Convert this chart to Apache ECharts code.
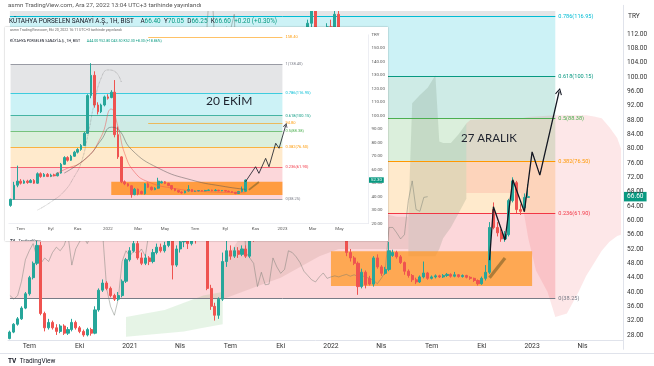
<!DOCTYPE html>
<html><head><meta charset="utf-8">
<script src="https://cdn.jsdelivr.net/npm/echarts@6/dist/echarts.min.js"></script>
<style>
html,body{margin:0;padding:0;background:#fff;overflow:hidden}
#main{position:absolute;left:0;top:0;width:654px;height:366px}
#inset{position:absolute;left:5px;top:27px;width:383px;height:214px;background:#fff;box-shadow:0 0 1.5px rgba(0,0,0,0.35)}
</style>
</head><body>
<div id="main"></div>
<div id="inset"></div>
<script>
// ---------- weekly categories (Mondays from 2020-06-01) ----------
const weeks = [];
for (let i = 0; i < 162; i++) {
  weeks.push(new Date(Date.UTC(2020, 5, 1) + i * 7 * 86400000).toISOString().slice(0, 10));
}

// ---------- weekly candles [open, close, low, high], index 0 = 2020-06-01 ----------
const candles = [
[27.0,28.8,26.8,29.2],[28.8,31.0,28.5,31.3],[31.0,32.5,30.6,33.0],[32.5,35.5,32.2,36.0],[35.5,39.5,35.2,40.0],
[39.5,44.0,39.0,44.5],[44.0,48.0,43.5,48.5],[48.0,53.0,47.5,60.0],[53.0,34.0,33.5,54.0],[34.0,30.0,29.0,34.5],
[30.0,31.5,29.5,32.5],[31.5,30.0,29.5,32.0],[30.0,29.0,28.0,31.0],[29.0,30.5,28.5,31.0],[30.5,28.5,28.0,31.0],
[28.5,29.5,28.0,30.2],[29.5,31.5,29.0,32.5],[31.5,30.0,29.5,32.0],[30.0,29.0,28.5,30.5],[29.0,28.0,27.5,29.5],
[28.0,29.5,27.6,30.0],[29.5,28.5,27.8,30.0],[28.5,35.0,28.2,36.0],[35.0,40.5,34.5,41.0],[40.5,42.5,40.0,43.5],
[42.5,41.0,40.5,43.0],[41.0,39.0,38.5,41.5],[39.0,38.0,37.5,39.5],[38.0,39.0,37.5,40.0],[39.0,43.0,38.5,43.5],
[43.0,49.0,42.5,49.5],[49.0,51.5,48.5,52.5],[51.5,53.5,51.0,55.0],[53.5,49.5,49.0,56.0],[49.5,48.0,47.5,51.0],
[48.0,49.5,47.5,50.5],[49.5,48.5,47.5,50.0],[48.5,51.0,48.0,52.0],[51.0,52.5,50.5,53.5],[52.5,51.5,51.0,53.5],
[51.5,53.0,51.0,54.0],[53.0,56.0,52.5,57.5],[56.0,47.5,43.5,57.0],[47.5,52.0,47.0,53.0],[52.0,54.0,51.0,56.0],
[54.0,55.5,52.5,57.0],[55.5,53.5,52.0,57.0],[53.5,56.0,53.0,58.0],[56.0,55.0,53.5,57.5],[55.0,57.0,54.5,58.0],
[57.0,56.0,54.5,58.0],[56.0,41.0,40.5,57.0],[41.0,36.0,35.0,42.0],[36.0,33.5,32.0,37.0],[33.5,38.0,32.5,38.5],
[38.0,48.5,37.5,51.0],[48.5,51.5,47.0,63.0],[51.5,50.0,49.0,53.0],[50.0,51.5,49.5,52.5],[51.5,50.5,49.5,52.5],
[50.5,52.0,50.0,53.0],[52.0,50.0,49.5,53.0],[50.0,57.0,49.5,58.0],[57.0,55.0,54.0,58.0],[55.0,56.5,54.5,57.5],
[56.5,55.0,54.5,57.5],[55.0,56.0,54.5,57.0],[56.0,55.5,55.0,57.0],[55.5,57.5,55.0,58.0],[57.5,64.0,57.0,65.0],
[64.0,69.0,63.5,70.0],[69.0,67.0,66.0,70.0],[67.0,70.0,66.5,71.0],[70.0,73.0,69.5,74.0],[73.0,75.0,72.0,76.0],
[75.0,78.0,74.0,79.0],[78.0,87.0,77.5,88.0],[87.0,115.0,86.5,116.0],[115.0,130.0,113.0,139.0],[130.0,108.0,106.0,133.0],
[108.0,103.0,101.0,110.0],[103.0,108.0,102.0,109.0],[108.0,114.0,107.0,115.0],[114.0,113.0,112.0,116.0],[113.5,117.5,113.0,119.0],
[117.5,86.0,84.0,126.5],[86.0,69.5,68.0,92.0],[69.5,51.0,50.0,70.0],[51.0,49.5,48.5,52.0],[49.5,48.0,47.5,50.0],
[48.0,41.5,39.2,48.5],[41.5,45.5,41.0,46.5],[45.5,42.0,41.0,46.0],[43.8,42.2,41.8,44.5],[42.2,49.5,41.5,50.0],
[49.5,47.0,46.5,50.5],[47.0,45.2,44.5,47.5],[45.2,46.3,44.8,47.0],[46.3,51.5,45.8,54.0],[50.2,51.0,49.8,51.8],
[51.0,49.8,49.3,51.5],[49.8,48.2,47.8,50.3],[48.2,45.8,44.8,48.5],[45.8,44.6,44.0,46.3],[44.6,43.4,42.8,45.0],
[43.4,42.8,42.2,44.0],[42.8,44.2,42.5,44.6],[44.2,45.3,43.8,48.5],[45.3,43.8,43.4,45.6],[43.8,44.2,43.5,44.6],
[44.2,44.5,43.8,44.9],[44.5,44.2,43.9,44.8],[44.2,44.6,43.9,45.0],[44.6,44.9,44.2,45.3],[44.9,44.4,44.0,45.2],
[44.4,44.8,44.1,45.6],[44.8,44.3,44.0,45.0],[44.3,44.6,44.0,44.9],[44.6,44.1,43.8,44.8],[44.1,43.8,43.4,44.4],
[43.8,43.2,42.8,44.0],[43.2,42.3,41.8,43.5],[42.3,43.8,42.0,44.3],[43.8,45.5,43.2,47.5],[45.5,58.0,45.0,59.5],
[63.0,58.0,57.5,65.0],[58.0,56.5,55.5,59.5],[56.5,54.8,54.0,57.5],[54.8,56.0,54.0,57.0],[56.0,65.5,55.5,66.0],
[65.5,71.0,65.0,72.0],[70.5,63.0,62.0,71.0],[63.0,62.5,61.5,64.5],[63.5,66.4,63.0,67.5],[66.4,66.6,66.25,70.05]
];
// the inset screenshot (20 Oct) shows the then-unfinished week
const insetLastCandle = [44.0, 52.3, 43.5, 52.8];

// ---------- Fibonacci ----------
const fibLevels = ['0', '0.236', '0.382', '0.5', '0.618', '0.786', '1'];
const fibPrices = [38.25, 61.90, 76.50, 88.38, 100.15, 116.95, 138.40];
const fibColors = ['#787b86', '#f23645', '#ff9800', '#4caf50', '#089981', '#00bcd4', '#787b86'];

// ---------- main Ichimoku cloud outlines (index, lower, upper) ----------
const cloudA_idx = [30, 35, 40, 45, 50, 55];
const cloudA_low = [27.5, 28, 28.5, 29, 30, 31];
const cloudA_high = [33, 34, 35, 37, 39, 40];
const cloudB_idx = [55, 60, 65, 70, 75, 80, 85, 90, 96, 100, 103];
const cloudB_low = [38, 40, 42, 44, 47, 50, 52, 52, 52, 52, 52];
const cloudB_high = [48, 56, 60, 62, 64, 66, 66, 64, 62, 61, 61];
const cloudD_idx = [103, 104, 106, 108, 110, 111, 112, 114, 116, 118];
const cloudD_low = [50, 50, 50, 50, 50, 52, 55, 58, 62, 66];
const cloudD_high = [61, 92.7, 95, 97, 100.5, 82, 81.6, 81.6, 84, 87];
const cloudE_idx = [118, 119, 125, 132, 134, 136, 139, 141, 144, 147, 149, 151, 153, 155, 157, 158];
const cloudE_low = [67.6, 67.6, 67.6, 67.6, 55, 46, 40, 33, 34, 40, 44.5, 48, 51.5, 54, 55.6, 56];
const cloudE_high = [87, 88, 88.4, 88.4, 88.8, 89, 89.2, 89.3, 89.3, 89.3, 89.3, 89, 88.5, 86, 83, 80];

// ---------- drawings ----------
const mainPathIdx = [124, 125, 128, 130, 133, 135, 137, 142];
const mainPathVal = [48.9, 63.8, 54.5, 71.3, 62.4, 79.1, 72.6, 96];
const mainPointerIdx = [128, 124];
const mainPointerVal = [49.5, 44];
const mainBox = {from: 83, to: 135, low: 41.7, high: 51.4};
const lastPrice = 66.60;

const insetPathIdx = [124, 127, 128, 130, 131, 133, 134, 136];
const insetPathVal = [51.1, 62.2, 57.3, 68.4, 62.2, 79.6, 75.9, 93];
const insetPointerIdx = [128, 125];
const insetPointerVal = [50.9, 45];
const insetBox = {from: 84, to: 135, low: 41.2, high: 51.0};
const insetLastPrice = 52.30;
const insetRedMA_idx = [66, 70, 76, 81, 84, 86, 88, 91, 95, 102, 112, 124];
const insetRedMA_val = [54.8, 60, 67.2, 84.5, 105, 92, 72, 58, 51, 46.4, 43.7, 42.9];
const insetGrayMA_idx = [70, 77, 81, 84, 86, 90, 98, 108, 118, 124];
const insetGrayMA_val = [57.5, 69.6, 82, 91.5, 90, 75, 61.2, 52.3, 47.4, 45.4];
const insetDots_idx = [62, 66, 70, 73, 75, 77, 79, 81, 83, 85, 87];
const insetDots_val = [30, 36, 44, 55, 65, 85, 110, 128, 134, 133, 125];
const insetOrangeLines = [158.4, 94.8];

// ---------- helpers ----------
function rgba(hex, a) {
  const n = parseInt(hex.slice(1), 16);
  return `rgba(${(n >> 16) & 255},${(n >> 8) & 255},${n & 255},${a})`;
}
const ARROW = 'path://M0,10 L5,0 L10,10 L8.6,10.8 L5,3.2 L1.4,10.8 Z';
function pairs(idx, val) { return idx.map((k, j) => [weeks[k], val[j]]); }
function pathData(idx, val, size, rot) {
  const d = pairs(idx, val);
  const last = d.pop();
  d.push({value: last, symbol: ARROW, symbolSize: size, symbolRotate: rot, itemStyle: {color: '#131722'}});
  return d;
}
function pointerData(idx, val, size, rot) {
  const d = pairs(idx, val);
  const last = d.pop();
  d.push({value: last, symbol: 'triangle', symbolSize: size, symbolRotate: rot});
  return d;
}
function cloud(idx, low, high, color) {
  return {
    type: 'custom', z: 2, silent: true, clip: true, data: [[0, 0]],
    renderItem(params, api) {
      const pts = [];
      for (let k = 0; k < idx.length; k++) pts.push(api.coord([idx[k], high[k]]));
      for (let k = idx.length - 1; k >= 0; k--) pts.push(api.coord([idx[k], low[k]]));
      return {type: 'polygon', shape: {points: pts}, style: {fill: color}};
    }
  };
}
function fibZones(fromIdx, toIdx, maxLevel) {
  const out = [];
  for (let k = 1; k <= maxLevel; k++) {
    out.push([{xAxis: weeks[fromIdx], yAxis: fibPrices[k - 1], itemStyle: {color: rgba(fibColors[k], 0.2)}},
              {xAxis: weeks[toIdx], yAxis: fibPrices[k]}]);
  }
  return out;
}
function fibLines(fromIdx, toIdx, maxLevel, fs, lw) {
  const out = [];
  for (let k = 0; k <= maxLevel; k++) {
    out.push([{coord: [weeks[fromIdx], fibPrices[k]], lineStyle: {color: fibColors[k], width: lw, type: 'solid'},
               label: {show: true, position: 'end', distance: 3, fontSize: fs, color: fibColors[k],
                       fontFamily: 'Roboto', formatter: fibLevels[k] + '(' + fibPrices[k].toFixed(2) + ')'}},
              {coord: [weeks[toIdx], fibPrices[k]]}]);
  }
  return out;
}
const mainMonths = {4: 'Nis', 7: 'Tem', 10: 'Eki'};
const insetMonths = {3: 'Mar', 5: 'May', 7: 'Tem', 9: 'Eyl', 11: 'Kas'};
function monthLabel(map) {
  return {
    show: (i, v) => { const m = +v.slice(5, 7), d = +v.slice(8, 10); return d <= 7 && (m === 1 || !!map[m]); },
    fmt: (v) => { const m = +v.slice(5, 7); return m === 1 ? v.slice(0, 4) : map[m]; }
  };
}
const candleStyle = {color: '#26a69a', color0: '#ef5350', borderColor: '#26a69a', borderColor0: '#ef5350', borderWidth: 1};

// =================== MAIN CHART ===================
const mainChart = echarts.init(document.getElementById('main'), null, {renderer: 'canvas'});
const ml = monthLabel(mainMonths);
mainChart.setOption({
  animation: false,
  backgroundColor: '#ffffff',
  grid: {left: 8, right: 31, top: 5.33, bottom: 16.7, containLabel: false},
  xAxis: {
    type: 'category', data: weeks, min: 0, max: 158, boundaryGap: true, offset: -9.3, z: 9,
    axisLine: {show: true, lineStyle: {color: '#e0e3eb'}}, axisTick: {show: false}, splitLine: {show: false},
    axisLabel: {interval: ml.show, formatter: ml.fmt, fontSize: 6.8, color: '#333', margin: 3, fontFamily: 'Roboto'}
  },
  yAxis: {
    type: 'value', position: 'right', min: 24, max: 120, interval: 4, z: 9,
    axisLine: {show: true, lineStyle: {color: '#e0e3eb'}}, axisTick: {show: false}, splitLine: {show: false},
    axisLabel: {fontSize: 6.6, color: '#333', margin: 4, fontFamily: 'Roboto',
      formatter: v => (v < 28 || v > 112) ? '' : v.toFixed(2)}
  },
  series: [
    {type: 'line', data: [], z: 1, silent: true,
     markArea: {z: 1, silent: true, data: fibZones(0, 141, 6)},
     markLine: {z: 3, silent: true, symbol: ['none', 'none'], data: fibLines(0, 141, 5, 5.6, 1)}},
    cloud(cloudA_idx, cloudA_low, cloudA_high, 'rgba(76,175,80,0.14)'),
    cloud(cloudB_idx, cloudB_low, cloudB_high, 'rgba(150,90,80,0.13)'),
    cloud(cloudD_idx, cloudD_low, cloudD_high, 'rgba(90,120,90,0.17)'),
    cloud(cloudE_idx, cloudE_low, cloudE_high, 'rgba(242,54,69,0.12)'),
    {type: 'line', data: [], z: 3, silent: true,
     markArea: {z: 3, silent: true, data: [[{xAxis: weeks[mainBox.from], yAxis: mainBox.low, itemStyle: {color: 'rgba(255,150,30,0.72)'}},
                                        {xAxis: weeks[mainBox.to], yAxis: mainBox.high}]]}},
    {type: 'line', z: 4, silent: true, symbol: 'none',
     data: weeks.slice(0, candles.length - 26).map((w, i) => [w, candles[i + 26][1]]),
     lineStyle: {color: 'rgba(110,120,110,0.55)', width: 0.8}},
    {type: 'candlestick', z: 4, data: candles, barWidth: 2.6, itemStyle: candleStyle, silent: true,
     markLine: {z: 6, silent: true, symbol: ['none', 'none'], data: [{yAxis: lastPrice}],
       lineStyle: {color: 'rgba(0,0,0,0)'},
       label: {position: 'end', distance: 1, formatter: lastPrice.toFixed(2), backgroundColor: '#089981',
               color: '#fff', fontSize: 6.6, padding: [1.5, 3, 1, 3], fontFamily: 'Roboto'}}},
    {type: 'line', z: 5, silent: true, symbol: 'circle', symbolSize: 0,
     data: pointerData(mainPointerIdx, mainPointerVal, [7, 7], 142),
     lineStyle: {color: 'rgba(160,115,50,0.85)', width: 3.2}, itemStyle: {color: 'rgba(160,115,50,0.9)'}},
    {type: 'line', z: 6, silent: true, symbol: 'circle', symbolSize: 0,
     data: pathData(mainPathIdx, mainPathVal, [7, 7], -13),
     lineStyle: {color: '#131722', width: 1.3}}
  ],
  graphic: [
    {type: 'rect', z: 8, silent: true, shape: {x: 0, y: 0, width: 654, height: 11}, style: {fill: '#fff'}},
    {type: 'rect', z: 8, silent: true, shape: {x: 0, y: 340.5, width: 654, height: 26}, style: {fill: '#fff'}},
    {type: 'line', z: 9, silent: true, shape: {x1: 0, y1: 353.5, x2: 654, y2: 353.5}, style: {stroke: '#e0e3eb', lineWidth: 1}},
    {type: 'text', z: 10, left: 8, top: 2, style: {text: 'asmn TradingView.com, Ara 27, 2022 13:04 UTC+3 tarihinde yayınlandı',
      fontSize: 6.2, fill: '#555', fontFamily: 'Roboto'}},
    {type: 'text', z: 10, left: 9, top: 15.5, style: {
      text: '{n|KÜTAHYA PORSELEN SANAYİ A.Ş., 1H, BIST}  {k|A}{v|66.40} {k|Y}{v|70.05} {k|D}{v|66.25} {k|K}{v|66.60} {v|+0.20 (+0.30%)}',
      rich: {n: {fontSize: 6.4, fill: '#131722', fontFamily: 'Roboto'}, k: {fontSize: 6.4, fill: '#131722', fontFamily: 'Roboto'},
             v: {fontSize: 6.4, fill: '#089981', fontFamily: 'Roboto'}}}},
    {type: 'text', z: 10, left: 628, top: 12.5, style: {text: 'TRY', fontSize: 6.6, fill: '#333', fontFamily: 'Roboto'}},
    {type: 'text', z: 10, left: 461, top: 132, style: {text: '27 ARALIK', fontSize: 11.5, fill: '#1e222d', fontFamily: 'Lato'}},
    {type: 'text', z: 10, left: 8, top: 355, style: {text: '{t|TV} {s|TradingView}',
      rich: {t: {fontSize: 6.5, fontWeight: 'bold', fill: '#131722', fontFamily: 'Roboto'}, s: {fontSize: 6.5, fill: '#131722', fontFamily: 'Roboto'}}}}
  ]
});

// =================== INSET (older screenshot, 20 Oct) ===================
const insetChart = echarts.init(document.getElementById('inset'), null, {renderer: 'canvas'});
const il = monthLabel(insetMonths);
const insetCandles = candles.slice(0, 124).concat([insetLastCandle]);
insetChart.setOption({
  animation: false,
  backgroundColor: '#ffffff',
  grid: {left: 3.9, top: 7.9, width: 359.5, height: 188.7, containLabel: false},
  xAxis: {
    type: 'category', data: weeks, min: 54, max: 160, boundaryGap: true,
    axisLine: {show: true, lineStyle: {color: '#e0e3eb', width: 0.6}}, axisTick: {show: false}, splitLine: {show: false},
    axisLabel: {interval: il.show, formatter: il.fmt, fontSize: 4.4, color: '#555', margin: 3, fontFamily: 'Roboto'}
  },
  yAxis: {
    type: 'value', position: 'right', min: 20, max: 160, interval: 10,
    axisLine: {show: true, lineStyle: {color: '#e0e3eb', width: 0.6}}, axisTick: {show: false}, splitLine: {show: false},
    axisLabel: {fontSize: 4.4, color: '#555', margin: 3.5, fontFamily: 'Roboto',
      formatter: v => v === 160 ? 'TRY' : v.toFixed(2)}
  },
  series: [
    {type: 'line', data: [], z: 1, silent: true,
     markArea: {z: 1, silent: true, data: fibZones(54, 135, 6)},
     markLine: {z: 3, silent: true, symbol: ['none', 'none'],
       data: fibLines(54, 135, 6, 4, 0.7).concat(insetOrangeLines.map(p => [
         {coord: [weeks[95], p], lineStyle: {color: '#ff9800', width: 0.6, type: 'solid'},
          label: {show: true, position: 'end', distance: 3, fontSize: 4, color: '#ff9800', formatter: p.toFixed(2)}},
         {coord: [weeks[135], p]}]))}},
    {type: 'line', data: [], z: 3, silent: true,
     markArea: {z: 3, silent: true, data: [[{xAxis: weeks[insetBox.from], yAxis: insetBox.low, itemStyle: {color: 'rgba(255,140,20,0.78)'}},
                                        {xAxis: weeks[insetBox.to], yAxis: insetBox.high}]]}},
    {type: 'line', z: 5, silent: true, symbol: 'none', smooth: true,
     data: pairs(insetDots_idx, insetDots_val), lineStyle: {color: 'rgba(90,90,90,0.6)', width: 0.7, type: 'dotted'}},
    {type: 'candlestick', z: 4, data: insetCandles, barWidth: 2.1, itemStyle: candleStyle, silent: true,
     markLine: {z: 6, silent: true, symbol: ['none', 'none'], data: [{yAxis: insetLastPrice}],
       lineStyle: {color: 'rgba(0,0,0,0)'},
       label: {position: 'end', distance: 1, formatter: insetLastPrice.toFixed(2), backgroundColor: '#089981',
               color: '#fff', fontSize: 4.3, padding: [1, 2, 0.5, 2], fontFamily: 'Roboto'}}},
    {type: 'line', z: 5, silent: true, symbol: 'none', smooth: true,
     data: pairs(insetRedMA_idx, insetRedMA_val), lineStyle: {color: 'rgba(239,83,80,0.85)', width: 0.6}},
    {type: 'line', z: 5, silent: true, symbol: 'none', smooth: true,
     data: pairs(insetGrayMA_idx, insetGrayMA_val), lineStyle: {color: 'rgba(80,80,80,0.8)', width: 0.6}},
    {type: 'line', z: 6, silent: true, symbol: 'circle', symbolSize: 0,
     data: pointerData(insetPointerIdx, insetPointerVal, [4, 4], 129),
     lineStyle: {color: 'rgba(160,115,50,0.85)', width: 1.8}, itemStyle: {color: 'rgba(160,115,50,0.9)'}},
    {type: 'line', z: 7, silent: true, symbol: 'circle', symbolSize: 0,
     data: pathData(insetPathIdx, insetPathVal, [4.5, 4.5], -16),
     lineStyle: {color: '#131722', width: 0.8}}
  ],
  graphic: [
    {type: 'text', z: 10, left: 5, top: 1, style: {text: 'asmn TradingView.com, Eki 20, 2022 16:11 UTC+3 tarihinde yayınlandı',
      fontSize: 3.6, fill: '#666', fontFamily: 'Roboto'}},
    {type: 'text', z: 10, left: 5, top: 8.3, style: {
      text: '{n|KÜTAHYA PORSELEN SANAYİ A.Ş., 1H, BIST}  {v|A44.00 Y52.80 D43.50 K52.30 +8.30 (+18.86%)}',
      rich: {n: {fontSize: 3.6, fill: '#131722', fontFamily: 'Roboto'}, v: {fontSize: 3.6, fill: '#089981', fontFamily: 'Roboto'}}}},
    {type: 'text', z: 10, left: 201, top: 68, style: {text: '20 EKİM', fontSize: 12, fill: '#1e222d', fontFamily: 'Lato'}},
    {type: 'text', z: 10, left: 5, top: 208, style: {text: '{t|TV} {s|TradingView}',
      rich: {t: {fontSize: 4, fontWeight: 'bold', fill: '#131722'}, s: {fontSize: 4, fill: '#131722'}}}}
  ]
});
</script>
</body></html>
